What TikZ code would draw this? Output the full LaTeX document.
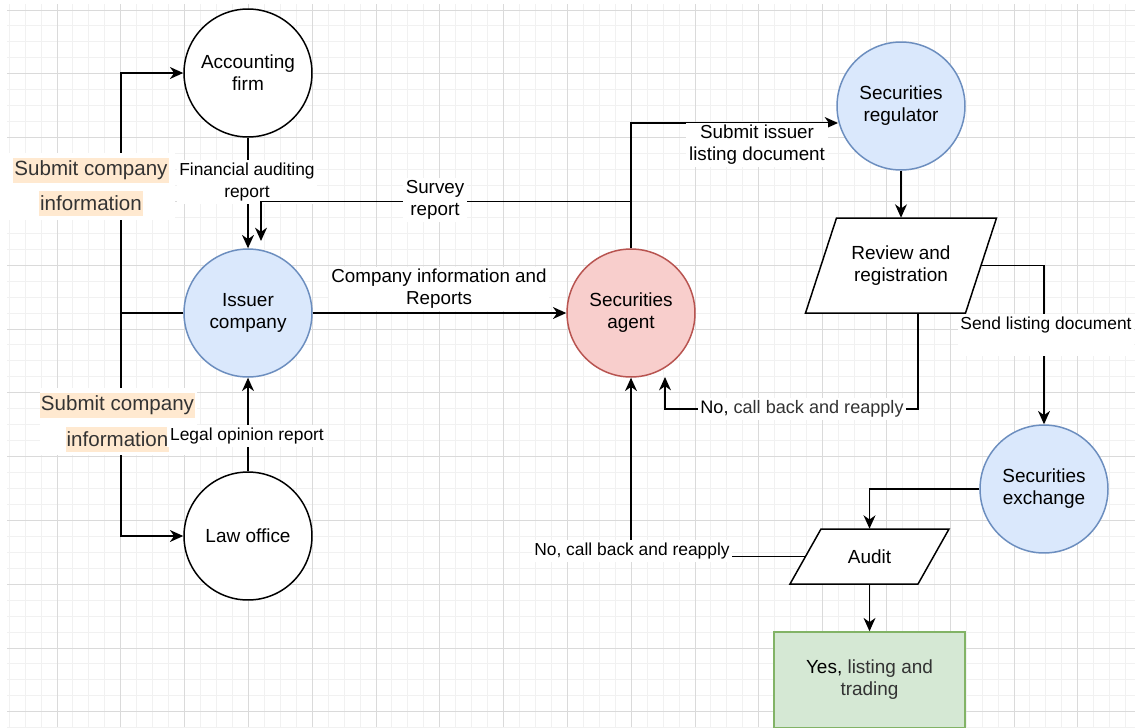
\documentclass[tikz,border=0pt]{standalone}
\usepackage{fontspec}
\setmainfont{Liberation Sans}
\usetikzlibrary{calc,arrows.meta}
\definecolor{gridmajor}{HTML}{DADADA}
\definecolor{gridminor}{HTML}{F1F1F1}
\definecolor{bluefill}{HTML}{DAE8FC}
\definecolor{blueline}{HTML}{6C8EBF}
\definecolor{redfill}{HTML}{F8CECC}
\definecolor{redline}{HTML}{B85450}
\definecolor{greenfill}{HTML}{D5E8D4}
\definecolor{greenline}{HTML}{82B366}
\definecolor{peach}{HTML}{FFE9D0}
\definecolor{softtext}{HTML}{333333}
\newcommand{\nodefont}{\fontsize{10.8}{12.5}\selectfont}
\newcommand{\bigfont}{\fontsize{10.7}{12.5}\selectfont}
\newcommand{\midfont}{\fontsize{10.3}{12.5}\selectfont}
\newcommand{\smallfont}{\fontsize{9.9}{12.5}\selectfont}
\newcommand{\hlfont}{\fontsize{11.7}{14}\selectfont}
\tikzset{
  minorline/.style={draw=gridminor, line width=0.55pt},
  majorline/.style={draw=gridmajor, line width=0.55pt},
  entity/.style={circle, draw, fill=white, line width=0.85pt, minimum size=2.56cm, inner sep=0pt, align=center, font=\nodefont},
  bluent/.style={entity, fill=bluefill, draw=blueline},
  redent/.style={entity, fill=redfill, draw=redline},
  process/.style={rectangle, inner sep=0pt, align=center, font=\nodefont},
  outcome/.style={rectangle, draw=greenline, fill=greenfill, line width=0.85pt, minimum width=3.82cm, minimum height=1.92cm, align=center, font=\nodefont, text=softtext},
  wire/.style={line width=0.85pt},
  conn/.style={wire, -{Stealth[length=7.6pt,width=6.8pt,inset=2.4pt]}},
  elabel/.style={fill=white, inner sep=1.5pt, align=center, font=\smallfont},
  biglabel/.style={elabel, font=\bigfont},
  hilite/.style={fill=peach, inner xsep=0.6pt, inner ysep=0pt, minimum height=0.5cm, font=\hlfont, text=softtext},
  patch/.style={fill=white, inner sep=0pt},
}

\begin{document}
\begin{tikzpicture}[x=0.02cm, y=-0.02cm]
  \useasboundingbox (0,0) rectangle (1135,727);
  \fill[white] (0,0) rectangle (1135,727);
  \begin{scope}
   \clip (7,4) rectangle (1135,727);
   \foreach \k in {-3,...,68} \draw[minorline] ({57+15.95*\k},4) -- ({57+15.95*\k},727);
   \foreach \k in {-1,...,46} \draw[minorline] (7,{10+15.95*\k}) -- (1135,{10+15.95*\k});
   \foreach \k in {-1,...,17} \draw[majorline] ({57+63.8*\k},4) -- ({57+63.8*\k},727);
   \foreach \k in {0,...,11} \draw[majorline] (7,{10+63.8*\k}) -- (1135,{10+63.8*\k});
  \end{scope}

  \draw[wire, fill=white] (836.5,218) -- (996.5,218) -- (965.5,313) -- (805.5,313) -- cycle;
  \draw[wire, fill=white] (821,529) -- (949,529) -- (918,584) -- (790,584) -- cycle;

  \node[entity] (acct) at (248,73) {Accounting\\firm};
  \node[bluent] (issuer) at (248,313) {Issuer\\company};
  \node[entity] (law) at (248,536) {Law office};
  \node[redent] (agent) at (631,313) {Securities\\agent};
  \node[bluent] (regulator) at (901,106) {Securities\\regulator};
  \node[process, minimum width=3.2cm, minimum height=1.9cm] (review) at (901,265.5) {Review and\\registration};
  \node[bluent] (exchange) at (1044,489) {Securities\\exchange};
  \node[process, minimum width=2.56cm, minimum height=1.1cm] (audit) at (869.5,556.5) {Audit};
  \node[outcome] (listing) at (869.5,680) {\textcolor{black}{Yes,} listing and\\trading};

  \coordinate (split) at (121,313);
  \coordinate (surveyin) at (261,241);
  \coordinate (regin) at (838,123);
  \coordinate (reviewout) at (918,313);
  \coordinate (agentin) at (665,377);

  \draw[wire] (issuer.west) -- (split);
  \draw[conn] (split) |- (acct.west);
  \draw[conn] (split) |- (law.west);
  \draw[conn] (acct.south) -- (issuer.north);
  \node[elabel] (finlbl) at (247,182) {Financial auditing\\report};
  \draw[conn] (law.north) -- (issuer.south);
  \draw[conn] (issuer.east) -- (agent.west);
  \draw[conn] (agent.north) |- (regin);
  \draw[conn] (agent.north) -- ++(0,-47) -| (surveyin);
  \draw[conn] (regulator.south) -- (review.north);
  \draw[conn] (review.east) -| (exchange.north);
  \draw[conn] (reviewout) -- ++(0,96) -| (agentin);
  \draw[conn] (exchange.west) -| (audit.north);
  \draw[conn] (audit.west) -| (agent.south);
  \draw[conn] (audit.south) -- (listing.north);

  \node[patch, minimum width=3.36cm, minimum height=1.34cm] (subpatch1) at (91,186.5) {};
  \node[hilite] (sub1a) at (91,170) {Submit company};
  \node[hilite] (sub1b) at (91,203) {information};
  \node[patch, minimum width=3.14cm, minimum height=1.34cm] (subpatch2) at (118.5,421.5) {};
  \node[hilite] (sub2a) at (117.5,405) {Submit company};
  \node[hilite] (sub2b) at (117.5,439) {information};

  \node[biglabel] (surveylbl) at (435,200) {Survey\\report};
  \node[biglabel] (infolbl) at (439,289) {Company information and\\Reports};
  \node[biglabel] (submitlbl) at (757,145) {Submit issuer\\listing document};
  \node[elabel] (legallbl) at (247,436) {Legal opinion report};
  \node[elabel, anchor=base, text depth=14pt] (sendlbl) at (1046,329) {Send listing document};
  \node[elabel, font=\midfont, text=softtext] (nolbl1) at (802,409) {\textcolor{black}{No,} call back and reapply};
  \node[elabel] (nolbl2) at (632,551) {No, call back and reapply};
\end{tikzpicture}
\end{document}
